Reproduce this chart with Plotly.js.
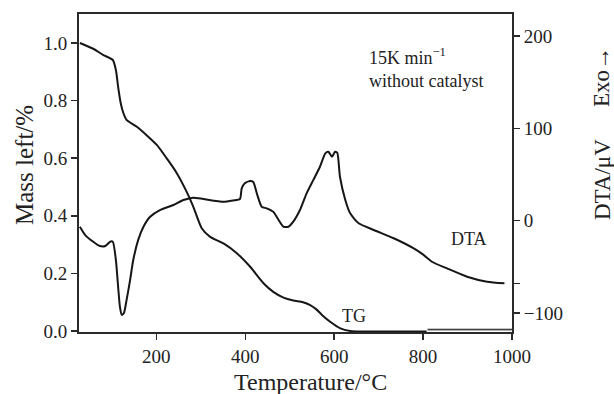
<!DOCTYPE html>
<html>
<head>
<meta charset="utf-8">
<script src="https://cdn.plot.ly/plotly-3.0.1.min.js"></script>
<style>html,body{margin:0;padding:0;background:#fff;}#chart{width:614px;height:394px;}</style>
</head>
<body>
<div id="chart"></div>
<script>
// TG curve (mass left, left axis)
const tgTemp = [28, 58, 81, 102, 109, 114, 120, 126, 133, 156, 178, 201, 223, 246, 268, 283, 302, 321, 351, 381, 411, 441, 463, 486, 508, 530, 546, 560, 575, 591, 614, 636, 660, 700, 750, 808];
const tgMass = [1.0, 0.98, 0.958, 0.941, 0.906, 0.848, 0.79, 0.756, 0.733, 0.709, 0.68, 0.646, 0.60, 0.548, 0.484, 0.432, 0.357, 0.327, 0.304, 0.27, 0.223, 0.166, 0.136, 0.116, 0.106, 0.10, 0.09, 0.075, 0.052, 0.032, 0.009, 0.0, -0.002, -0.002, -0.002, -0.002];
// TG residual band at the end
const bandTemp = [810, 1000];
const bandMass = [0.006, 0.006];
// DTA curve (right axis)
const dtaTemp = [28, 40, 58, 73, 85, 96, 102, 109, 114, 118, 122, 127, 133, 141, 148, 159, 171, 186, 208, 238, 261, 283, 306, 351, 373, 388, 392, 399, 411, 418, 426, 437, 448, 463, 475, 486, 497, 508, 523, 538, 553, 568, 580, 587, 595, 602, 607, 613, 625, 636, 655, 689, 734, 779, 801, 820, 854, 899, 944, 983];
const dtaVal = [-6.5, -15.5, -22.7, -27.4, -27.4, -22.7, -22.7, -42.6, -71.5, -93, -102, -100, -86, -64, -42.6, -21, -6.5, 4.3, 11.6, 17, 22.4, 25, 23.5, 20.6, 22, 23.5, 35, 40.5, 43, 42, 29.7, 15.2, 13.4, 9.7, 0.8, -6.5, -6.5, -1, 11.6, 29.7, 44, 58.5, 73, 74.7, 69.3, 74.7, 73.6, 47.6, 22.4, 8, -2.8, -10, -19, -30, -37, -44.4, -51.6, -60.6, -66, -67.8];
// ticks
const xTicks = [200, 400, 600, 800, 1000];
const yTicks = [0, 0.2, 0.4, 0.6, 0.8, 1.0];
const yTickText = ['0.0', '0.2', '0.4', '0.6', '0.8', '1.0'];
const y2Ticks = [-100, -68, 0, 100, 200];
const y2TickText = ['\u2212100', '', '0', '100', '200'];

const serif = 'Liberation Serif, Times New Roman, serif';
const ink = '#161616';
const axisCol = '#2a2a2a';
const txt = '#222';

const traces = [
  {x: tgTemp, y: tgMass, type: 'scatter', mode: 'lines', line: {color: ink, width: 2, shape: 'spline', smoothing: 0.6}, xaxis: 'x', yaxis: 'y', hoverinfo: 'skip'},
  {x: bandTemp, y: bandMass, type: 'scatter', mode: 'lines', fill: 'tozeroy', fillcolor: '#b0b0b0', line: {color: ink, width: 1}, xaxis: 'x', yaxis: 'y', hoverinfo: 'skip'},
  {x: dtaTemp, y: dtaVal, type: 'scatter', mode: 'lines', line: {color: ink, width: 2, shape: 'spline', smoothing: 0.6}, xaxis: 'x', yaxis: 'y2', hoverinfo: 'skip'}
];

function ann(text, x, y, size, extra) {
  return Object.assign({text: text, xref: 'paper', yref: 'paper', x: x, y: y, xanchor: 'center', yanchor: 'middle', showarrow: false, font: {family: serif, size: size, color: txt}}, extra || {});
}
const px = v => (v - 79) / 433;
const py = v => (332 - v) / 318;

const tickFont = {family: serif, size: 19, color: txt};

const layout = {
  width: 614, height: 394,
  margin: {l: 79, r: 102, t: 14, b: 62},
  paper_bgcolor: '#fff', plot_bgcolor: '#fff',
  showlegend: false,
  font: {family: serif, size: 18, color: txt},
  xaxis: {
    range: [26, 1000], tickvals: xTicks, ticks: 'outside', ticklen: 6, tickwidth: 1.5, tickcolor: axisCol,
    showline: true, linecolor: axisCol, linewidth: 2, mirror: true, showgrid: false, zeroline: false,
    tickfont: tickFont
  },
  yaxis: {
    range: [-0.0035, 1.1007], tickvals: yTicks, ticktext: yTickText,
    ticks: 'outside', ticklen: 6, tickwidth: 1.5, tickcolor: axisCol,
    showline: true, linecolor: axisCol, linewidth: 2, showgrid: false, zeroline: false,
    tickfont: tickFont
  },
  yaxis2: {
    overlaying: 'y', side: 'right', range: [-120.5, 223.9], tickvals: y2Ticks, ticktext: y2TickText,
    ticks: 'outside', ticklen: 6, tickwidth: 1.5, tickcolor: axisCol,
    showline: true, linecolor: axisCol, linewidth: 2, showgrid: false, zeroline: false,
    tickfont: tickFont
  },
  annotations: [
    ann('Mass left/%', px(24), py(165), 25, {textangle: -90}),
    ann('Temperature/°C', px(310), py(382), 24),
    ann('DTA/\u03bcV', px(602), py(180), 23, {textangle: -90}),
    ann('Exo\u2192', px(602), py(77), 23, {textangle: -90}),
    ann('15K min<sup>\u22121</sup>', px(367), py(57), 18, {xanchor: 'left'}),
    ann('without catalyst', px(367), py(81), 18, {xanchor: 'left'}),
    {text: 'DTA', xref: 'x', yref: 'y2', x: 904, y: -19.8, showarrow: false, font: {family: serif, size: 18, color: txt}},
    {text: 'TG', xref: 'x', yref: 'y', x: 645, y: 0.052, showarrow: false, font: {family: serif, size: 18, color: txt}}
  ]
};

Plotly.newPlot('chart', traces, layout, {staticPlot: true, displayModeBar: false});
</script>
</body>
</html>
